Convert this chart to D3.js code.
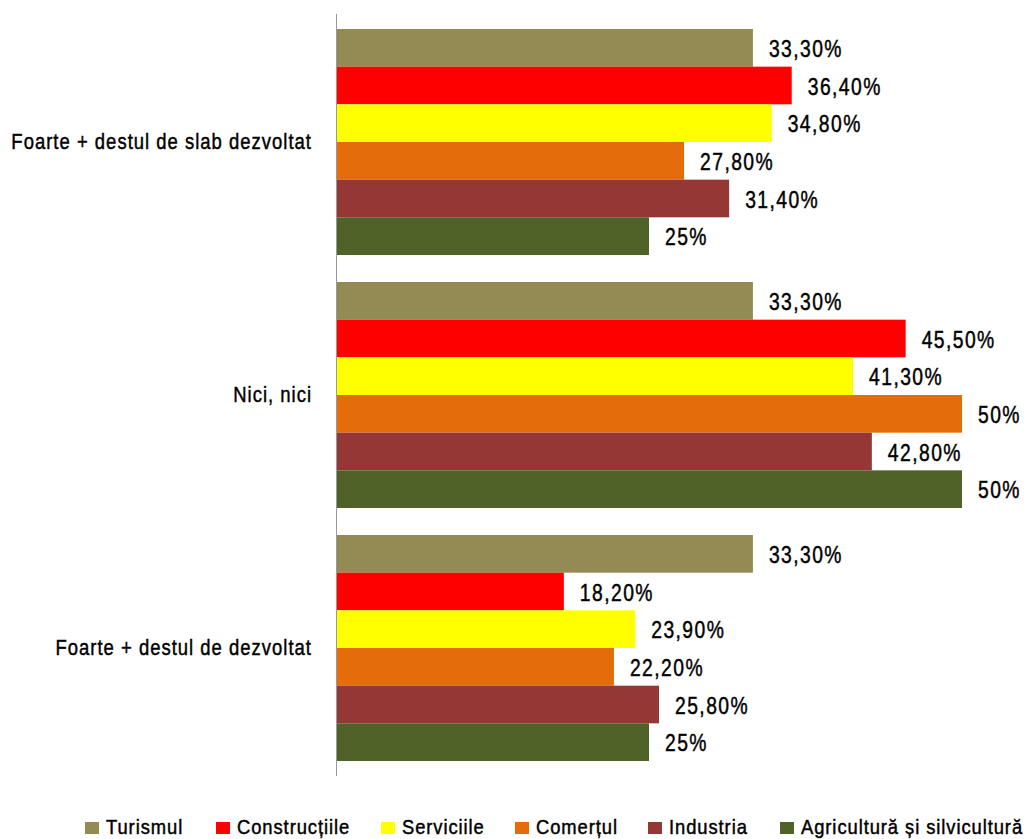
<!DOCTYPE html>
<html lang="ro">
  <head>
    <meta charset="utf-8">
    <script src="https://cdn.jsdelivr.net/npm/d3@7"></script>
    <style>
      body { margin: 0; background: #fff; }
      text { font-family: "Liberation Sans", Arial, sans-serif; fill: #000; stroke: #000; stroke-width: 0.45px; }
      .value { font-size: 23px; letter-spacing: 1.7px; }
      .cat { font-size: 22px; letter-spacing: 1.2px; }
      .legend text { font-size: 20px; letter-spacing: 1px; }
    </style>
  </head>
  <body>
    <script>
      var width = 1028, height = 839;
      var squeeze = 0.84; // narrow font look

      var categories = ["Foarte +  destul de slab dezvoltat", "Nici, nici", "Foarte + destul de dezvoltat"];
      var series = ["Turismul", "Construcțiile", "Serviciile", "Comerțul", "Industria", "Agricultură și silvicultură"];
      var colors = ["#948A54", "#FF0000", "#FFFF00", "#E46C0A", "#953735", "#4F6228"];
      // values per series, in category order
      var turismul = [33.3, 33.3, 33.3];
      var constructiile = [36.4, 45.5, 18.2];
      var serviciile = [34.8, 41.3, 23.9];
      var comertul = [27.8, 50, 22.2];
      var industria = [31.4, 42.8, 25.8];
      var agricultura = [25, 50, 25];
      var values = [turismul, constructiile, serviciile, comertul, industria, agricultura];

      var fmt = function(v) {
        return Number.isInteger(v) ? v + "%" : v.toFixed(2).replace(".", ",") + "%";
      };

      var svg = d3.select("body").append("svg").attr("width", width).attr("height", height)
        .style("display", "block");

      var x = d3.scaleLinear().domain([0, 50]).range([336, 962]);
      var y0 = d3.scaleBand().domain(categories).range([29, 761]).paddingInner(0.1067).paddingOuter(0);
      var y1 = d3.scaleBand().domain(series).range([0, y0.bandwidth()]);

      var rows = function(d, i) {
        return series.map(function(s, j) { return {s: s, j: j, v: values[j][i]}; });
      };

      var groups = svg.append("g").selectAll("g")
        .data(categories)
        .enter().append("g")
          .attr("transform", function(d) { return "translate(0," + y0(d) + ")"; });

      groups.selectAll("rect")
        .data(rows)
        .enter().append("rect")
          .attr("x", x(0))
          .attr("y", function(d) { return y1(d.s); })
          .attr("width", function(d) { return x(d.v) - x(0); })
          .attr("height", y1.bandwidth())
          .attr("fill", function(d) { return colors[d.j]; });

      groups.selectAll("text.value")
        .data(rows)
        .enter().append("text")
          .attr("class", "value")
          .attr("transform", function(d) {
            return "translate(" + (x(d.v) + 16) + "," + (y1(d.s) + y1.bandwidth() / 2 + 1) + ") scale(" + squeeze + ",1)";
          })
          .attr("dominant-baseline", "central")
          .text(function(d) { return fmt(d.v); });

      // vertical axis line
      svg.append("line")
        .attr("x1", x(0) + 0.5).attr("x2", x(0) + 0.5)
        .attr("y1", 14).attr("y2", 776)
        .attr("stroke", "#999").attr("stroke-width", 1);

      svg.append("g").selectAll("text")
        .data(categories)
        .enter().append("text")
          .attr("class", "cat")
          .attr("transform", function(d) {
            return "translate(312," + (y0(d) + y0.bandwidth() / 2 - 1) + ") scale(" + squeeze + ",1)";
          })
          .attr("text-anchor", "end")
          .attr("dominant-baseline", "central")
          .text(function(d) { return d; });

      // legend
      var legendX = [85, 216, 381, 515, 648, 780];
      var legend = svg.append("g").attr("class", "legend").selectAll("g")
        .data(series)
        .enter().append("g")
          .attr("transform", function(d, i) { return "translate(" + legendX[i] + ",822)"; });
      legend.append("rect").attr("width", 14).attr("height", 12)
        .attr("fill", function(d, i) { return colors[i]; });
      legend.append("text")
        .attr("transform", "translate(21,5) scale(0.92,1)")
        .attr("dominant-baseline", "central")
        .text(function(d) { return d; });
    </script>
  </body>
</html>
